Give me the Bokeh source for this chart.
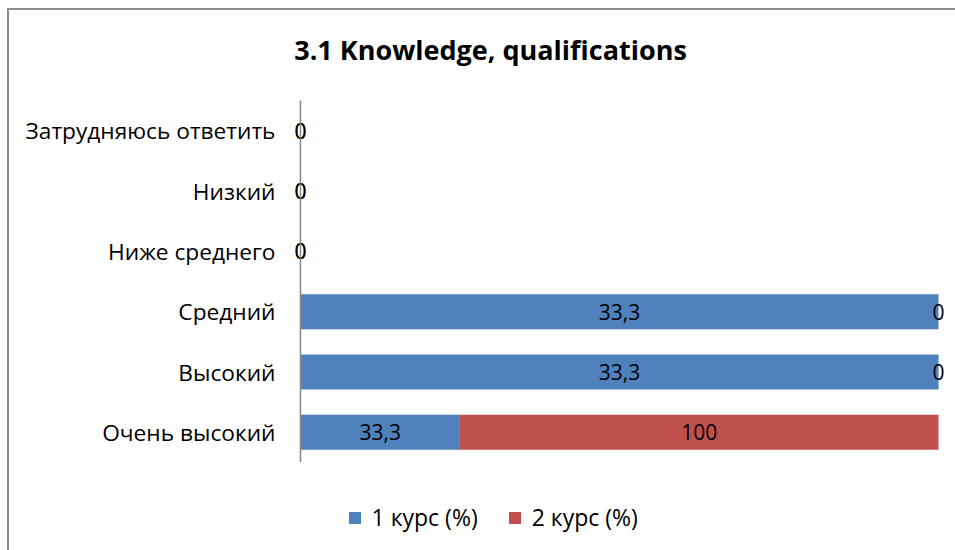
from bokeh.plotting import figure
from bokeh.layouts import column, row
from bokeh.models import ColumnDataSource, Legend, LegendItem, FactorRange, Range1d, Span, Spacer
from bokeh.embed import file_html
from bokeh.resources import INLINE
from bokeh.core.properties import value

title_text = "3.1 Knowledge, qualifications"
categories = ["Затрудняюсь ответить", "Низкий", "Ниже среднего", "Средний", "Высокий", "Очень высокий"]
course1 = [0, 0, 0, 33.3, 33.3, 33.3]
course2 = [0, 0, 0, 0, 0, 100]
series_names = ["1 курс (%)", "2 курс (%)"]
colors = ["#4F81BD", "#C0504D"]

FONT = "Open Sans"
W = 946
X0 = 9            # page x of canvas left edge
FL, FR = 292, 946  # page x of the plot frame (shared by all strips)

def fmt(v):
    return ("%g" % v).replace(".", ",")

def bare(fig):
    fig.outline_line_color = None
    fig.xgrid.visible = False
    fig.ygrid.visible = False
    fig.min_border_left = FL - X0
    fig.min_border_right = W - (FR - X0)
    fig.min_border_top = 0
    fig.min_border_bottom = 0

share1, share2 = [], []
for a, b in zip(course1, course2):
    t = a + b
    share1.append(a / t * 100 if t else 0)
    share2.append(b / t * 100 if t else 0)

src = ColumnDataSource(dict(
    cat=categories,
    l1=[0] * len(categories),
    r1=share1,
    l2=share1,
    r2=[a + b for a, b in zip(share1, share2)],
    m1=[s / 2 for s in share1],
    m2=[a + b / 2 for a, b in zip(share1, share2)],
    t1=[fmt(v) for v in course1],
    t2=[fmt(v) for v in course2],
))

# ---- title strip (data x = page x) ----
tf = figure(width=W, height=90, output_backend="svg", toolbar_location=None,
            x_range=Range1d(FL, FR), y_range=Range1d(0, 90), x_axis_type=None, y_axis_type=None)
bare(tf)
tf.text(x=[490], y=[51], text=[title_text], text_align="center", text_baseline="middle",
        text_font=value(FONT), text_font_style="bold", text_font_size="27px", text_color="#000000")

# ---- main chart ----
pad = 1.25
p = figure(width=W, height=362, output_backend="svg", toolbar_location=None,
           x_range=Range1d(-pad, 100 + pad), y_range=FactorRange(factors=categories[::-1]))
bare(p)
p.xaxis.visible = False
ya = p.yaxis[0]
ya.axis_line_color = None
ya.major_tick_line_color = None
ya.minor_tick_line_color = None
ya.major_tick_out = 0
ya.major_tick_in = 0
ya.major_label_standoff = 17
ya.major_label_text_font = FONT
ya.major_label_text_font_size = "22.7px"
ya.major_label_text_color = "#000000"

p.add_layout(Span(location=0, dimension="height", line_color="#868686", line_width=1.5))

p.hbar(y="cat", left="l1", right="r1", height=0.58, source=src, color=colors[0], line_color=None)
p.hbar(y="cat", left="l2", right="r2", height=0.58, source=src, color=colors[1], line_color=None)

for xcol, tcol in (("m1", "t1"), ("m2", "t2")):
    p.text(x=xcol, y="cat", text=tcol, source=src, text_align="center", text_baseline="middle",
           text_font=value(FONT), text_font_size="21px", text_color="#000000")

# ---- legend strip ----
lf = figure(width=W, height=88, output_backend="svg", toolbar_location=None,
            x_range=Range1d(FL, FR), y_range=Range1d(0, 88), x_axis_type=None, y_axis_type=None)
bare(lf)
r1 = lf.hbar(y="m1", left="l1", right="r1", height=1, source=src, color=colors[0], line_color=None, visible=False)
r2 = lf.hbar(y="m2", left="l2", right="r2", height=1, source=src, color=colors[1], line_color=None, visible=False)
legend = Legend(items=[LegendItem(label=series_names[0], renderers=[r1]),
                       LegendItem(label=series_names[1], renderers=[r2])],
                location=(346.5 - FL, 17), orientation="horizontal")
legend.border_line_color = None
legend.background_fill_alpha = 0
legend.glyph_width = 15
legend.glyph_height = 15
legend.label_height = 22
legend.label_text_font = FONT
legend.label_text_font_size = "23px"
legend.label_text_color = "#000000"
legend.label_standoff = 10
legend.spacing = 29
legend.padding = 0
legend.margin = 0
lf.add_layout(legend)

inner = column(tf, p, lf, spacing=0)
inner.styles = {"border-left": "2px solid #8c8c8c", "border-top": "2px solid #8c8c8c"}
layout = column(Spacer(height=8, width=10), row(Spacer(width=7, height=10), inner, spacing=0), spacing=0)

open("out.html", "w").write(file_html(layout, INLINE))
